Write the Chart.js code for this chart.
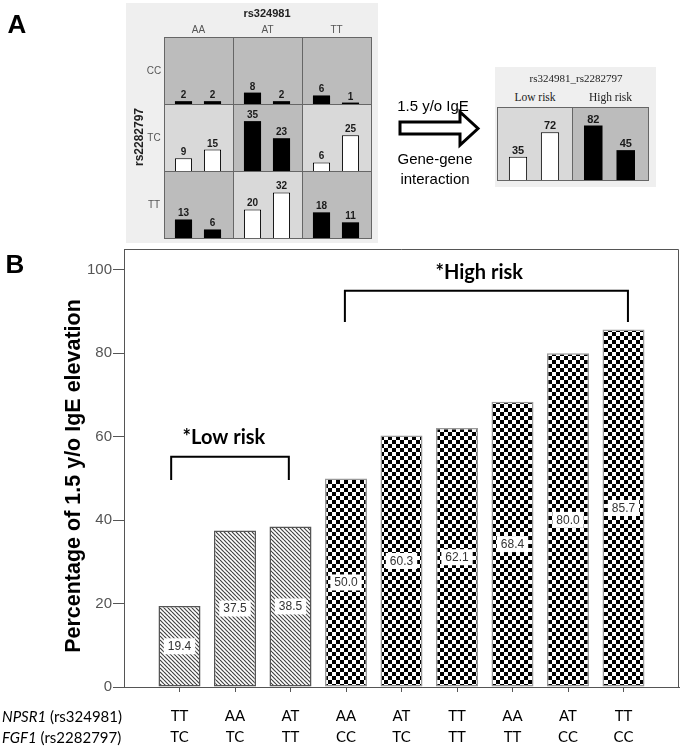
<!DOCTYPE html>
<html><head><meta charset="utf-8">
<script src="https://cdn.jsdelivr.net/npm/chart.js@4.4.0/dist/chart.umd.min.js"></script>
<style>
html,body{margin:0;padding:0;background:#fff;width:683px;height:749px;overflow:hidden;}
#root{position:relative;width:683px;height:749px;}
.abs{position:absolute;}
.t{position:absolute;white-space:nowrap;transform:translate(-50%,-50%);font-family:Arial,"Liberation Sans",sans-serif;line-height:1;}
canvas{display:block;}
</style></head><body><div id="root">
<canvas id="chartB" width="683" height="749" class="abs" style="left:0;top:0"></canvas>
<div class="abs" style="left:126px;top:3px;width:252px;height:240px;background:#efefef"></div>
<div class="abs" style="left:495px;top:67px;width:161px;height:120px;background:#efefef"></div>
<svg class="abs" style="left:0;top:0" width="683" height="250">
  <polygon points="400,122 460,122 460,112 478,128.5 460,145 460,134 400,134" fill="#fff" stroke="#000" stroke-width="3" stroke-linejoin="miter"/>
</svg>
</div>
<script>
// ---------- Panel A data ----------
const colGenotypes = ['AA','AT','TT'];          // rs324981
const rowGenotypes = ['CC','TC','TT'];          // rs2282797
const countsCC = [[2,2],[8,2],[6,1]];
const countsTC = [[9,15],[35,23],[6,25]];
const countsTT = [[13,6],[20,32],[18,11]];
const riskCC = ['high','high','high'];
const riskTC = ['low','high','low'];
const riskTT = ['high','low','high'];
const combinedGroups = ['Low risk','High risk'];
const combinedLow = [35,72];
const combinedHigh = [82,45];

// ---------- Panel B data ----------
const genotypeNPSR1 = ['TT','AA','AT','AA','AT','TT','AA','AT','TT'];
const genotypeFGF1  = ['TC','TC','TT','CC','TC','TT','TT','CC','CC'];
const pctElevation  = [19.4,37.5,38.5,50.0,60.3,62.1,68.4,80.0,85.7];
const riskGroup     = ['low','low','low','high','high','high','high','high','high'];
const yTicks        = [0,20,40,60,80,100];

const DARK = '#bcbcbc', LIGHT = '#d9d9d9';
const root = document.getElementById('root');

function addText(txt, x, y, css, rot){
  const d = document.createElement('div');
  d.className = 't';
  d.textContent = txt;
  d.style.left = x + 'px'; d.style.top = y + 'px';
  if (css) d.style.cssText += css;
  if (rot) d.style.transform = 'translate(-50%,-50%) rotate(' + rot + 'deg)';
  root.appendChild(d);
  return d;
}
function addCanvas(x, y, w, h){
  const c = document.createElement('canvas');
  c.width = w; c.height = h;
  c.className = 'abs';
  c.style.left = x + 'px'; c.style.top = y + 'px';
  root.appendChild(c);
  return c;
}

const cellPlugin = (bg, font) => ({
  id: 'cell',
  beforeDraw(chart){
    const c = chart.ctx; c.save(); c.fillStyle = bg; c.fillRect(0,0,chart.width,chart.height); c.restore();
  },
  afterDatasetsDraw(chart){
    const c = chart.ctx, meta = chart.getDatasetMeta(0), vals = chart.data.datasets[0].data;
    c.save(); c.font = font; c.fillStyle = '#1a1a1a'; c.textAlign = 'center'; c.textBaseline = 'alphabetic';
    meta.data.forEach((bar, i) => c.fillText(String(vals[i]), bar.x, bar.y - 3));
    c.restore();
  },
  afterDraw(chart){
    const c = chart.ctx; c.save(); c.strokeStyle = '#666'; c.lineWidth = 1;
    c.strokeRect(0.5, 0.5, chart.width - 1, chart.height - 1); c.restore();
  }
});

function cellChart(canvas, values, risk, yMax, pad){
  const high = risk === 'high';
  return new Chart(canvas, {
    type: 'bar',
    data: { labels: values.map((_, i) => String(i)),
      datasets: [{ data: values, backgroundColor: high ? '#000' : '#fff', borderColor: '#000',
        borderWidth: high ? 0 : 1, borderSkipped: 'bottom', barPercentage: pad.bar, categoryPercentage: 1 }] },
    options: { responsive: false, animation: false, devicePixelRatio: 1, events: [],
      layout: { padding: { left: pad.l, right: pad.r, top: 0, bottom: 1 } },
      scales: { x: { display: false }, y: { display: false, min: 0, max: yMax } },
      plugins: { legend: { display: false }, tooltip: { enabled: false } } },
    plugins: [cellPlugin(high ? DARK : LIGHT, pad.font)]
  });
}

// ---------- Panel A grid ----------
const gridCounts = [countsCC, countsTC, countsTT];
const gridRisk = [riskCC, riskTC, riskTT];
const gx0 = 164, gy0 = 37, cw = 69, ch = 67;
gridCounts.forEach((row, r) => {
  row.forEach((vals, c) => {
    const cv = addCanvas(gx0 + c * cw, gy0 + r * ch, cw + 1, ch + 1);
    cellChart(cv, vals, gridRisk[r][c], 47, { l: 5, r: 7, bar: 0.59, font: 'bold 10px Arial' });
  });
  addText(rowGenotypes[r], 154, gy0 + r * ch + ch / 2, 'font-size:10px;color:#555;');
});
colGenotypes.forEach((g, c) => addText(g, gx0 + c * cw + cw / 2, 30, 'font-size:10px;color:#555;'));
addText('rs324981', 267, 13, 'font-size:11px;font-weight:bold;color:#222;');
addText('rs2282797', 139, 137, 'font-size:12px;font-weight:bold;color:#222;', -90);

// ---------- Panel A combined ----------
const combinedVals = [combinedLow, combinedHigh];
combinedVals.forEach((vals, i) => {
  const x = i === 0 ? 497 : 572;
  const w = i === 0 ? 76 : 77;
  const cv = addCanvas(x, 107, w, 74);
  cellChart(cv, vals, i === 0 ? 'low' : 'high', 110, { l: 5, r: 7, bar: 0.57, font: 'bold 11px Arial' });
  addText(combinedGroups[i], x + w / 2, 98, 'font-family:"Liberation Serif",serif;font-size:11.5px;color:#222;');
});
addText('rs324981_rs2282797', 576, 78, 'font-family:"Liberation Serif",serif;font-size:11px;color:#222;');

addText('1.5 y/o IgE', 433, 105, 'font-size:15px;color:#000;');
addText('Gene-gene', 435, 158, 'font-size:15px;color:#000;');
addText('interaction', 435, 178, 'font-size:15px;color:#000;');
addText('A', 17, 24, 'font-size:26px;font-weight:bold;color:#000;');
addText('B', 15, 264, 'font-size:26px;font-weight:bold;color:#000;');

// ---------- Panel B ----------
function makeHatch(){
  const n = 4, c = document.createElement('canvas'); c.width = n; c.height = n;
  const x = c.getContext('2d'); x.fillStyle = '#fff'; x.fillRect(0,0,n,n);
  x.strokeStyle = '#444'; x.lineWidth = 1.2;
  for (let k = -1; k <= 1; k++){ x.beginPath(); x.moveTo(0, k*n); x.lineTo(n, n + k*n); x.stroke(); }
  return x.createPattern(c, 'repeat');
}
function makeChecker(){
  const s = 4, c = document.createElement('canvas'); c.width = 2*s; c.height = 2*s;
  const x = c.getContext('2d'); x.fillStyle = '#fff'; x.fillRect(0,0,2*s,2*s);
  x.fillStyle = '#000'; x.fillRect(0,0,s,s); x.fillRect(s,s,s,s);
  return x.createPattern(c, 'repeat');
}
const hatch = makeHatch(), checker = makeChecker();

const bPlugin = {
  id: 'bExtras',
  afterDatasetsDraw(chart){
    const c = chart.ctx, meta = chart.getDatasetMeta(0);
    c.save();
    c.font = '12px Arial';
    c.textAlign = 'center'; c.textBaseline = 'middle';
    meta.data.forEach((bar, i) => {
      const txt = pctElevation[i].toFixed(1);
      const mid = (bar.y + bar.base) / 2;
      const w = c.measureText(txt).width + 8;
      c.fillStyle = '#fff'; c.fillRect(bar.x - w/2, mid - 8, w, 16);
      c.fillStyle = '#333'; c.fillText(txt, bar.x, mid + 0.5);
    });
    c.restore();
  },
  afterDraw(chart){
    const c = chart.ctx, a = chart.chartArea, xs = chart.scales.x, ys = chart.scales.y;
    c.save();
    // frame top/right
    c.strokeStyle = '#555'; c.lineWidth = 1;
    c.beginPath(); c.moveTo(a.left, a.top + 0.5); c.lineTo(a.right - 0.5, a.top + 0.5); c.lineTo(a.right - 0.5, a.bottom); c.stroke();
    // brackets
    c.strokeStyle = '#000'; c.lineWidth = 2;
    const bracket = (x0, x1, yTop, yLeg) => {
      const p0 = xs.getPixelForValue(x0), p1 = xs.getPixelForValue(x1);
      const t = ys.getPixelForValue(yTop), b = ys.getPixelForValue(yLeg);
      c.beginPath(); c.moveTo(p0, b); c.lineTo(p0, t); c.lineTo(p1, t); c.lineTo(p1, b); c.stroke();
    };
    bracket(-0.15, 1.97, 55.2, 49.6);
    bracket(2.98, 8.08, 95.0, 87.5);
    c.fillStyle = '#000'; c.font = 'bold 20px Lato, "Open Sans", sans-serif';
    c.textAlign = 'center'; c.textBaseline = 'middle';
    c.fillText('*Low risk', xs.getPixelForValue(0.8), ys.getPixelForValue(59.7));
    c.fillText('*High risk', xs.getPixelForValue(5.4), ys.getPixelForValue(99.3));
    // y title
    c.save();
    c.translate(74, (a.top + a.bottom) / 2 + 8);
    c.rotate(-Math.PI / 2);
    c.font = 'bold 21.5px Arial, "Liberation Sans", sans-serif';
    c.fillText('Percentage of 1.5 y/o IgE elevation', 0, 0);
    c.restore();
    // row labels
    c.textAlign = 'left'; c.textBaseline = 'middle';
    const rowLabel = (gene, snp, y) => {
      c.font = 'italic 15px Lato, sans-serif';
      c.fillText(gene, 2, y);
      const w = c.measureText(gene).width;
      c.font = '15px Lato, sans-serif';
      c.fillText(' (' + snp + ')', 2 + w, y);
    };
    rowLabel('NPSR1', 'rs324981', 717);
    rowLabel('FGF1', 'rs2282797', 738);
    c.restore();
  }
};

new Chart(document.getElementById('chartB'), {
  type: 'bar',
  data: { datasets: [{
    data: pctElevation.map((v, i) => ({ x: i, y: v })),
    backgroundColor: riskGroup.map(r => r === 'low' ? hatch : checker),
    borderColor: riskGroup.map(r => r === 'low' ? '#555' : '#999'),
    borderWidth: 1.5, borderSkipped: false,
    barPercentage: 0.757, categoryPercentage: 1 }] },
  options: {
    responsive: false, animation: false, devicePixelRatio: 1, events: [],
    layout: { padding: { top: 249, right: 4, left: 0, bottom: 0 } },
    scales: {
      x: { type: 'linear', min: -1, max: 9, offset: false,
        afterBuildTicks: s => { s.ticks = genotypeNPSR1.map((_, i) => ({ value: i })); },
        afterFit: s => { s.height = 62; },
        grid: { drawOnChartArea: false, drawTicks: true, tickLength: 5, color: '#555', offset: false },
        border: { color: '#555', width: 1 },
        ticks: { callback: v => [genotypeNPSR1[v], genotypeFGF1[v]], autoSkip: false, maxRotation: 0,
          font: { family: 'Lato', size: 15, lineHeight: 1.4 }, color: '#000', padding: 14 } },
      y: { min: 0, max: 105,
        afterBuildTicks: s => { s.ticks = yTicks.map(v => ({ value: v })); },
        afterFit: s => { s.width = 124; },
        grid: { drawOnChartArea: false, tickLength: 11, color: '#555' },
        border: { color: '#555', width: 1 },
        ticks: { font: { family: '"Liberation Sans Narrow", Arial', size: 15 }, color: '#555', padding: 1 } }
    },
    plugins: { legend: { display: false }, tooltip: { enabled: false } }
  },
  plugins: [bPlugin]
});
</script>
</body></html>
